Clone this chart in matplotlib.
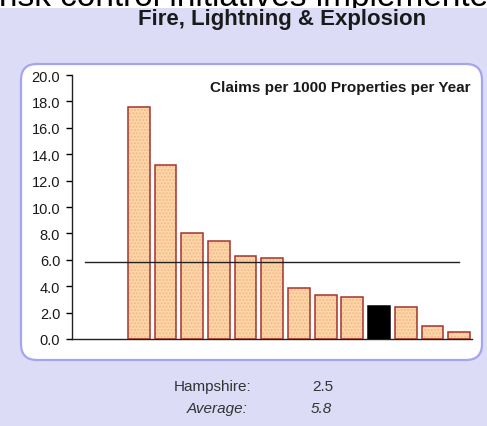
import numpy as np
import matplotlib
matplotlib.use('Agg')
import matplotlib.pyplot as plt
from matplotlib.patches import FancyBboxPatch, Rectangle

plt.rcParams['font.family'] = ['Liberation Sans', 'DejaVu Sans']

# data (first two slots are empty in the original)
rates = [np.nan, np.nan, 17.6, 13.2, 8.0, 7.4, 6.3, 6.1, 3.9, 3.3, 3.2, 2.5, 2.4, 1.0, 0.55]
highlight = 11  # Hampshire
hampshire = 2.5
average = 5.8
y_ticks = [0, 2, 4, 6, 8, 10, 12, 14, 16, 18, 20]

W, H = 487, 427
fig = plt.figure(figsize=(W / 100, H / 100), dpi=100)
fig.patch.set_facecolor('white')

# clipped heading from the page above, partly covered by the lavender area
fig.text(-1 / W, 1 - 6 / H, 'risk control initiatives implemented', fontsize=24,
         color='black', ha='left', va='baseline', zorder=0)
fig.patches.append(Rectangle((0, 0), 1, 1 - 9 / H, transform=fig.transFigure,
                             facecolor='#dcdcf7', edgecolor='none', zorder=0.5))

# rounded white panel
panel = FancyBboxPatch((0.21, (H - 361) / 100), 4.61, 2.96,
                       boxstyle='round,pad=0,rounding_size=0.16',
                       transform=fig.dpi_scale_trans, facecolor='white',
                       edgecolor='#a4a4f0', linewidth=1.6, zorder=0.6)
fig.patches.append(panel)

fig.text(282 / W, 1 - 19 / H, 'Fire, Lightning & Explosion', fontsize=16,
         fontweight='bold', color='#1a1a1a', ha='center', va='center', zorder=2)

ax = fig.add_axes([72 / W, (H - 340) / H, 400.5 / W, 264 / H])
ax.set_zorder(1)
ax.set_facecolor('none')

x = np.arange(len(rates))
vals = np.array(rates, dtype=float)
plain = vals.copy()
plain[highlight] = np.nan
fills = ['black' if i == highlight else '#fdd6aa' for i in x]
edges = ['black' if i == highlight else '#a3342c' for i in x]
ax.bar(x, vals, width=0.82, color=fills, edgecolor='none', zorder=2)
ax.bar(x, plain, width=0.82, color='none', edgecolor='#f4b985', hatch='.....',
       linewidth=0, zorder=2)
ax.bar(x, vals, width=0.82, color='none', edgecolor=edges, linewidth=1.1, zorder=3)
ax.plot([0, 14], [average, average], color='#222222', linewidth=1, zorder=4)

ax.set_xlim(-0.5, len(rates) - 0.5)
ax.set_ylim(0, 20)
ax.set_yticks(y_ticks)
ax.set_yticklabels(['%.1f' % t for t in y_ticks], fontsize=10.5, color='#1a1a1a')
ax.set_xticks([])
ax.tick_params(axis='y', direction='out', length=4, width=1, pad=4.5)
for s in ['top', 'right']:
    ax.spines[s].set_visible(False)
for s in ['left', 'bottom']:
    ax.spines[s].set_color('#222222')
    ax.spines[s].set_linewidth(1)

ax.text(0.995, 0.955, 'Claims per 1000 Properties per Year', transform=ax.transAxes,
        fontsize=11, fontweight='bold', color='#1a1a1a', ha='right', va='center')

fig.text(251 / W, 1 - 387 / H, 'Hampshire:', fontsize=11, color='#333333',
         ha='right', va='center', zorder=2)
fig.text(323 / W, 1 - 387 / H, '%.1f' % hampshire, fontsize=11, color='#333333',
         ha='center', va='center', zorder=2)
fig.text(248 / W, 1 - 409 / H, 'Average:', fontsize=11, color='#333333',
         ha='right', va='center', style='italic', zorder=2)
fig.text(321 / W, 1 - 409 / H, '%.1f' % average, fontsize=11, color='#333333',
         ha='center', va='center', style='italic', zorder=2)

fig.savefig('out.png', dpi=100, facecolor=fig.get_facecolor())
